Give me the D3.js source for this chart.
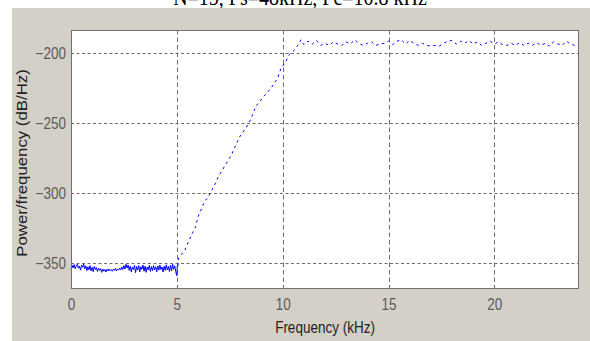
<!DOCTYPE html>
<html>
<head>
<meta charset="utf-8">
<script src="https://cdn.jsdelivr.net/npm/d3@7"></script>
<style>
  body { margin: 0; background: #fff; }
  svg { display: block; }
</style>
</head>
<body>
<svg id="chart" width="590" height="341"></svg>
<script>
// PSD, [kHz, dB/Hz]
var floor_pts = [
  [0,-354],[0.05,-351.5],[0.1,-353.5],[0.15,-351],[0.2,-354],[0.25,-352],[0.3,-350.8],
  [0.35,-353.6],[0.4,-352.2],[0.45,-355],[0.5,-351.5],[0.55,-353],[0.6,-350.6],[0.65,-354.2],
  [0.7,-352],[0.75,-355.4],[0.8,-352.6],[0.85,-354.8],[0.9,-351.8],[0.95,-355.6],[1.0,-353],
  [1.05,-356.2],[1.1,-352.4],[1.15,-354.6],[1.2,-353.2],[1.25,-356],[1.3,-353.6],[1.35,-355.2],
  [1.4,-354],[1.45,-356.6],[1.5,-354.2],[1.55,-355.8],[1.6,-354.6],[1.65,-356.4],[1.7,-354.4],
  [1.75,-355.6],[1.8,-354.2],[1.85,-355.4],[1.9,-354.6],[1.95,-355.8],[2.0,-354.4],[2.05,-355.2],
  [2.1,-353.8],[2.15,-355.6],[2.2,-354.2],[2.25,-355],[2.3,-353.6],[2.35,-354.8],[2.4,-352.8],
  [2.45,-354.6],[2.5,-351.8],[2.55,-354.2],[2.6,-350.8],[2.65,-353.6],[2.7,-351.4],[2.75,-355.2],
  [2.8,-352.2],[2.85,-356.4],[2.9,-352.8],[2.95,-354.6],[3.0,-351.6],[3.05,-356.8],[3.1,-352.4],
  [3.15,-355],[3.2,-351.8],[3.25,-356.2],[3.3,-352.6],[3.35,-354.4],[3.4,-351.4],[3.45,-355.8],
  [3.5,-352.2],[3.55,-356.6],[3.6,-352.8],[3.65,-354.8],[3.7,-351.6],[3.75,-356],[3.8,-352.4],
  [3.85,-355.4],[3.9,-351.8],[3.95,-354.8],[4.0,-352.6],[4.05,-356.2],[4.1,-352],[4.15,-355],
  [4.2,-351.4],[4.25,-354.6],[4.3,-352.8],[4.35,-356.4],[4.4,-352.2],[4.45,-355.2],[4.5,-351.2],
  [4.55,-354.8],[4.6,-352.4],[4.65,-356],[4.7,-351.6],[4.75,-355.6],[4.8,-350.8],[4.85,-354.4],
  [4.9,-352],[4.95,-356.2],[5.0,-359],[5.02,-352]
];

var ramp_pts = [
  [5.05,-352],[5.1,-346],[5.37,-341],[5.6,-333],[5.79,-327],[5.89,-324],[6.0,-317],
  [6.31,-306],[6.47,-303],[6.86,-292],[6.94,-289],[7.17,-283],[7.33,-279],[7.57,-273],
  [7.96,-260],[8.24,-254],[8.47,-248],[8.74,-238],[9.05,-232],[9.45,-225],[9.76,-218],
  [9.92,-211],[10.15,-206],[10.31,-201],[10.55,-198],[10.78,-193],[10.86,-190.5]
];

var flat_pts = [
  [11.0,-194],[11.2,-191.5],[11.4,-193.5],[11.6,-191],[11.8,-194.5],[12.0,-193],[12.2,-194.5],
  [12.4,-192],[12.6,-193.5],[12.8,-194.5],[13.0,-192],[13.2,-193.5],[13.4,-190.5],[13.6,-193],
  [13.8,-194.5],[14.0,-193],[14.2,-192],[14.4,-194.5],[14.6,-193.5],[14.8,-193],[15.0,-191.5],
  [15.2,-194],[15.4,-191.5],[15.6,-190.5],[15.8,-193.5],[16.0,-191],[16.2,-193],[16.4,-194.5],
  [16.6,-193],[16.8,-194.5],[17.0,-195],[17.2,-194.5],[17.4,-195],[17.6,-193],[17.8,-191.5],
  [18.0,-191],[18.2,-193.5],[18.4,-191.5],[18.6,-193],[18.8,-191],[19.0,-193.5],[19.2,-192],
  [19.4,-194.5],[19.6,-193],[19.8,-191.5],[20.0,-193.5],[20.2,-192],[20.4,-194],[20.6,-194.5],
  [20.8,-193],[21.0,-194.5],[21.2,-192.5],[21.4,-194.5],[21.6,-193],[21.8,-194.5],[22.0,-192.5],
  [22.2,-194.5],[22.4,-193],[22.6,-195],[22.8,-192],[23.0,-193.5],[23.2,-194.5],[23.4,-191.5],
  [23.6,-193.5],[23.8,-194.5],[24.0,-193]
];

var x_ticks = [0, 5, 10, 15, 20];
var y_ticks = [-350, -300, -250, -200];
var title_text = "N=15, Fs=48kHz, Fc=10.8 kHz";
var x_label = "Frequency (kHz)";
var y_label = "Power/frequency (dB/Hz)";

var svg = d3.select("#chart");
var p_left = 71, p_top = 30, p_right = 579, p_bottom = 289;

var x = d3.scaleLinear().domain([0, 24]).range([p_left, p_right]);
var y = d3.scaleLinear().domain([-368.5, -183.5]).range([p_bottom, p_top]);

// title sits above the figure window, mostly hidden by it
svg.append("text")
    .attr("transform", "translate(300,5) scale(1,1.2)")
    .attr("text-anchor", "middle")
    .style("font-family", "'Liberation Serif', 'Times New Roman', serif")
    .style("font-size", "20px")
    .text(title_text);

svg.append("rect")
    .attr("x", 12).attr("y", 8)
    .attr("width", 590 - 12).attr("height", 341 - 8)
    .style("fill", "#d4d0c8");

svg.append("rect")
    .attr("x", p_left).attr("y", p_top)
    .attr("width", p_right - p_left).attr("height", p_bottom - p_top)
    .style("fill", "#fff");

// grid
svg.selectAll(".hgrid")
    .data(y_ticks)
  .enter().append("line")
    .attr("class", "hgrid")
    .attr("x1", p_left).attr("x2", p_right)
    .attr("y1", function(d) { return Math.round(y(d)) + 0.5; })
    .attr("y2", function(d) { return Math.round(y(d)) + 0.5; })
    .style("stroke", "#6e6e6e")
    .style("stroke-dasharray", "3,2.5");

svg.selectAll(".vgrid")
    .data(x_ticks.slice(1))
  .enter().append("line")
    .attr("class", "vgrid")
    .attr("x1", function(d) { return Math.round(x(d)) + 0.5; })
    .attr("x2", function(d) { return Math.round(x(d)) + 0.5; })
    .attr("y1", p_top).attr("y2", p_bottom)
    .style("stroke", "#6e6e6e")
    .style("stroke-dasharray", "4.5,3");

var line = d3.line()
    .x(function(d) { return x(d[0]); })
    .y(function(d) { return y(d[1]); });

svg.append("path")
    .datum(floor_pts)
    .attr("d", line)
    .style("fill", "none")
    .style("stroke", "#0000ff")
    .style("stroke-width", 1);

svg.append("path")
    .datum(ramp_pts.concat(flat_pts))
    .attr("d", line)
    .style("fill", "none")
    .style("stroke", "#0000ff")
    .style("stroke-width", 1)
    .style("stroke-dasharray", "2.5,3.5");

// frame
svg.append("rect")
    .attr("x", p_left + 0.5).attr("y", p_top + 0.5)
    .attr("width", p_right - p_left - 1).attr("height", p_bottom - p_top - 1)
    .style("fill", "none")
    .style("stroke", "#707070");

var font = "'Liberation Sans', Arial, sans-serif";

var xAxis = svg.append("g")
    .attr("transform", "translate(0," + p_bottom + ")")
    .call(d3.axisBottom(x).tickValues(x_ticks).tickSize(0).tickPadding(0));
var yAxis = svg.append("g")
    .attr("transform", "translate(" + p_left + ",0)")
    .call(d3.axisLeft(y).tickValues(y_ticks).tickSize(0).tickPadding(0));

xAxis.select(".domain").remove();
yAxis.select(".domain").remove();

xAxis.selectAll("text")
    .attr("y", 0).attr("dy", 0)
    .attr("transform", "translate(0,21) scale(1,1.2)")
    .style("font-family", font)
    .style("font-size", "13.5px")
    .style("fill", "#5a5a5a");

yAxis.selectAll("text")
    .attr("x", 0).attr("dy", 0)
    .attr("transform", "translate(-5,5) scale(1,1.2)")
    .style("font-family", font)
    .style("font-size", "13.5px")
    .style("fill", "#5a5a5a");

svg.append("text")
    .attr("transform", "translate(" + ((p_left + p_right) / 2) + ",333) scale(1,1.2)")
    .attr("text-anchor", "middle")
    .style("font-family", font)
    .style("font-size", "13.5px")
    .style("fill", "#222")
    .text(x_label);

svg.append("text")
    .attr("transform", "translate(27,163) rotate(-90) scale(1.2,1)")
    .attr("text-anchor", "middle")
    .style("font-family", font)
    .style("font-size", "14px")
    .style("fill", "#222")
    .text(y_label);
</script>
</body>
</html>
